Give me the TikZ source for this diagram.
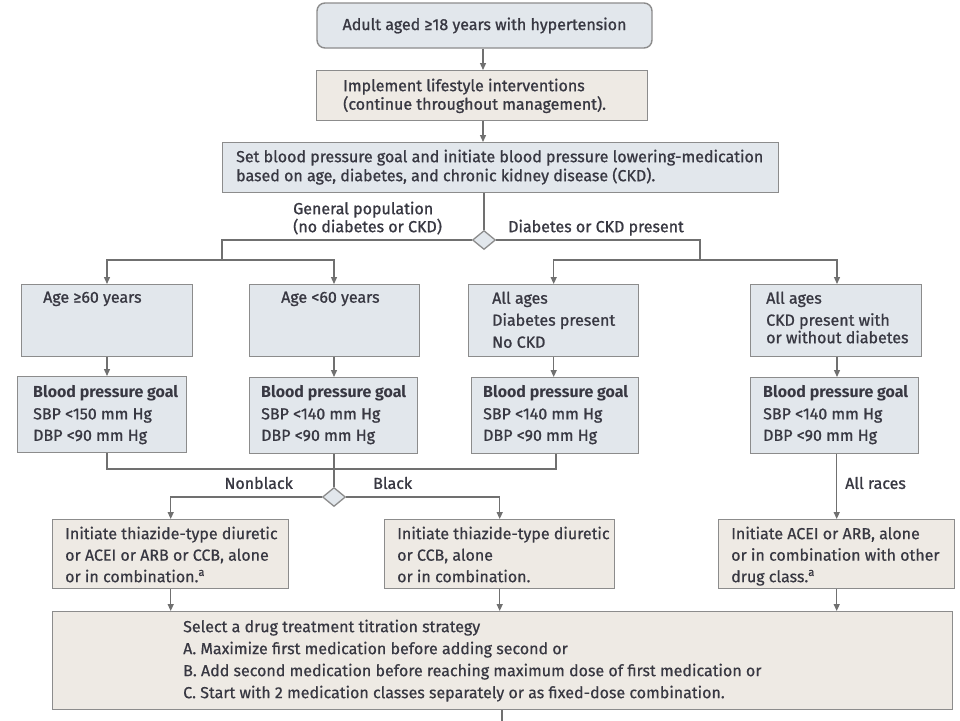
\documentclass[tikz,border=0pt]{standalone}
\usepackage{fontspec}
\setmainfont{Fira Sans}
\newfontfamily\medf{Fira Sans}[FakeBold=1.0]
\newfontfamily\regf{Fira Sans}[FakeBold=0.6]
\usetikzlibrary{arrows.meta,shapes.geometric}
\definecolor{bluec}{HTML}{E2E7EC}
\definecolor{beigec}{HTML}{EEEAE4}
\definecolor{bordc}{HTML}{8C8C8C}
\definecolor{linec}{HTML}{707070}
\definecolor{textc}{HTML}{383842}
\tikzset{
  box/.style={draw=bordc, line width=1.4pt, inner sep=0pt, anchor=north west},
  bluebox/.style={box, fill=bluec},
  beigebox/.style={box, fill=beigec},
  txt/.style={inner sep=0pt, anchor=north west, align=left, text=textc, font=\medf\fontsize{16}{22}\selectfont},
  ltxt/.style={txt, font=\regf\fontsize{16}{21.5}\selectfont},
  conn/.style={draw=linec, line width=1.3pt},
  arr/.style={conn, -{Triangle[length=7pt,width=6pt]}},
  dia/.style={diamond, draw=bordc, fill=bluec, line width=1.3pt, minimum width=23pt, minimum height=19pt, inner sep=0pt}
}
\begin{document}
\begin{tikzpicture}[x=1pt,y=-1pt]
\fill[white] (0,0) rectangle (960,720);
\useasboundingbox (0,0) rectangle (960,720);

% top
\node[bluebox, rounded corners=8pt, anchor=center, minimum width=335pt, minimum height=45pt, text=textc, font=\medf\fontsize{16}{18}\selectfont] (n1) at (484.5,25.5) {Adult aged ≥18 years with hypertension};
\node[beigebox, minimum width=331pt, minimum height=50pt] (n2) at (316,70) {};
\node[txt, font=\medf\fontsize{16}{18.5}\selectfont] (t2) at (343,78.5) {Implement lifestyle interventions\\(continue throughout management).};
\node[bluebox, minimum width=556pt, minimum height=50pt] (n3) at (222,142) {};
\node[txt, font=\medf\fontsize{16}{19}\selectfont] (t3) at (236,149.5) {Set blood pressure goal and initiate blood pressure lowering-medication\\based on age, diabetes, and chronic kidney disease (CKD).};

\node[txt, font=\medf\fontsize{16}{18}\selectfont] (gp) at (293,201.5) {General population\\(no diabetes or CKD)};
\node[txt] (dc) at (508,219.5) {Diabetes or CKD present};
\node[dia] (d1) at (484,240) {};

% row 1
\node[bluebox, minimum width=171pt, minimum height=72pt] (bA) at (21,284) {};
\node[bluebox, minimum width=170pt, minimum height=72pt] (bB) at (249,284) {};
\node[bluebox, minimum width=170pt, minimum height=72pt] (bC) at (468,284) {};
\node[bluebox, minimum width=171pt, minimum height=72pt] (bD) at (750,284) {};
\node[txt] (tA) at (43,291.5) {Age ≥60 years};
\node[txt] (tB) at (281,291.5) {Age <60 years};
\node[txt] (tC) at (492,291.5) {All ages\\Diabetes present\\No CKD};
\node[txt] (tD) at (766,291.5) {All ages\\CKD present with\\[-4.5pt]or without diabetes};

% goals
\node[bluebox, minimum width=169pt, minimum height=76pt] (gA) at (17,376) {};
\node[bluebox, minimum width=168pt, minimum height=76pt] (gB) at (249,377) {};
\node[bluebox, minimum width=167pt, minimum height=76pt] (gC) at (471,377) {};
\node[bluebox, minimum width=168pt, minimum height=76pt] (gD) at (750,377) {};
\node[txt, font=\medf\fontsize{16}{21.5}\selectfont] (hA) at (33,385.5) {{\rmfamily\bfseries Blood pressure goal}\\SBP <150 mm Hg\\DBP <90 mm Hg};
\node[txt, font=\medf\fontsize{16}{21.5}\selectfont] (hB) at (261,385.5) {{\rmfamily\bfseries Blood pressure goal}\\SBP <140 mm Hg\\DBP <90 mm Hg};
\node[txt, font=\medf\fontsize{16}{21.5}\selectfont] (hC) at (483,385.5) {{\rmfamily\bfseries Blood pressure goal}\\SBP <140 mm Hg\\DBP <90 mm Hg};
\node[txt, font=\medf\fontsize{16}{21.5}\selectfont] (hD) at (763,385.5) {{\rmfamily\bfseries Blood pressure goal}\\SBP <140 mm Hg\\DBP <90 mm Hg};

% race split
\node[dia] (d2) at (334,497) {};
\node[txt, anchor=east] (nb) at (293,483) {Nonblack};
\node[txt, anchor=west] (bl) at (373,483) {Black};
\node[txt, anchor=west] (ar) at (845,483) {All races};

% treatments
\node[beigebox, minimum width=236pt, minimum height=69pt] (eE) at (52,519) {};
\node[beigebox, minimum width=230pt, minimum height=69pt] (eF) at (384,519) {};
\node[beigebox, minimum width=236pt, minimum height=69pt] (eG) at (718,519) {};
\node[ltxt] (uE) at (65,526.5) {Initiate thiazide-type diuretic\\or ACEI or ARB or CCB, alone\\or in combination.\textsuperscript{a}};
\node[ltxt] (uF) at (397,526.5) {Initiate thiazide-type diuretic\\or CCB, alone\\or in combination.};
\node[ltxt] (uG) at (731,526.5) {Initiate ACEI or ARB, alone\\or in combination with other\\drug class.\textsuperscript{a}};

% final
\node[beigebox, minimum width=900pt, minimum height=98pt] (big) at (52,611) {};
\node[ltxt, font=\regf\fontsize{16}{22}\selectfont] (ub) at (183,619.5) {Select a drug treatment titration strategy\\A. Maximize first medication before adding second or\\B. Add second medication before reaching maximum dose of first medication or\\C. Start with 2 medication classes separately or as fixed-dose combination.};

% connectors
\coordinate (s1) at (222,260);
\coordinate (s2) at (700,260);
\coordinate (jL) at (107,469);
\coordinate (jM) at (334,469);
\coordinate (jR) at (556,469);
\coordinate (bot) at (502,722);

\draw[arr] (n1.south -| 483,0) -- (n2.north -| 483,0);
\draw[arr] (n2.south -| 483,0) -- (n3.north -| 483,0);
\draw[conn] (n3.south -| d1) -- (d1.north);
\draw[conn] (d1.west) -| (s1);
\draw[conn] (d1.east) -| (s2);
\draw[arr] (s1) -| (bA.north -| jL);
\draw[arr] (s1) -| (bB.north -| jM);
\draw[arr] (s2) -| (bC.north);
\draw[arr] (s2) -| (bD.north -| 837,0);

\draw[arr] (bA.south -| jL) -- (gA.north -| jL);
\draw[arr] (bB.south -| jM) -- (gB.north -| jM);
\draw[arr] (bC.south) -- (gC.north -| bC.south);
\draw[arr] (bD.south -| 837,0) -- (gD.north -| 837,0);

\draw[conn] (gA.south -| jL) -- (jL) -- (jR) -- (gC.south -| jR);
\draw[conn] (gB.south -| jM) -- (d2.north);
\draw[arr] (d2.west) -| (eE.north);
\draw[arr] (d2.east) -| (eF.north);
\draw[arr] (gD.south -| eG.north) -- (eG.north);

\draw[arr] (eE.south) -- (eE.south |- big.north);
\draw[arr] (eF.south) -- (eF.south |- big.north);
\draw[arr] (eG.south) -- (eG.south |- big.north);
\draw[conn] (big.south -| bot) -- (bot);
\end{tikzpicture}
\end{document}
